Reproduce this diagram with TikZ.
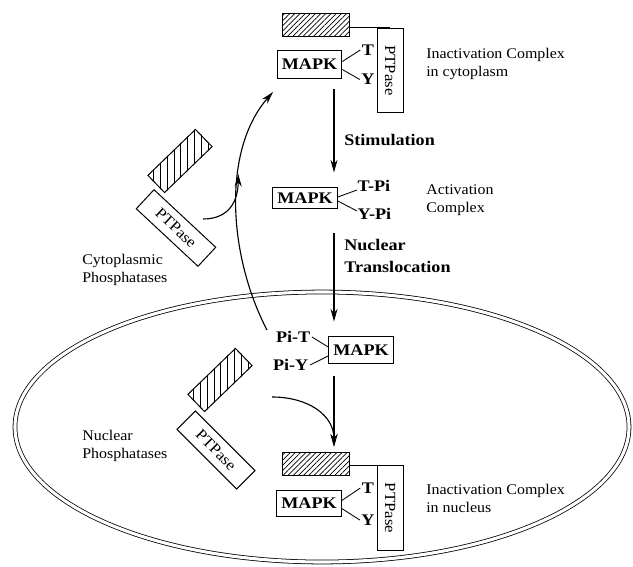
\documentclass[tikz,border=0pt]{standalone}
\usepackage{fontspec}
\setmainfont{Liberation Serif}[FakeStretch=1.08, BoldFeatures={FakeStretch=1.12}]
\usetikzlibrary{positioning, calc, arrows.meta, patterns.meta}

\tikzset{
  mapk/.style={draw, line width=0.7pt, font=\bfseries\fontsize{11.5}{13}\selectfont,
    minimum width=46pt, minimum height=20pt, inner sep=0pt},
  ptpase/.style={draw, line width=0.7pt, font=\fontsize{11}{13}\selectfont,
    minimum width=60pt, minimum height=18.5pt, inner sep=0pt},
  barbox/.style={draw, line width=0.7pt, minimum width=47pt, minimum height=17pt, inner sep=0pt},
  hatchbox/.style={barbox, pattern={Lines[angle=45, distance=2.6pt, line width=0.5pt]}},
  hatchline/.style={line width=0.5pt},
  site/.style={font=\bfseries\fontsize{11.5}{13}\selectfont, inner sep=1pt},
  note/.style={font=\fontsize{10.5}{12.8}\selectfont, align=left, inner sep=0pt, anchor=west},
  cue/.style={font=\bfseries\fontsize{11.5}{15.6}\selectfont, align=left, inner sep=0pt, anchor=west},
  flow/.style={line width=0.8pt, -{Stealth[length=9pt, width=5pt]}},
  bond/.style={line width=0.6pt},
}

\begin{document}
\begin{tikzpicture}[x=0.025cm, y=-0.025cm]
\useasboundingbox (0,0) rectangle (633,567);

% nucleus
\draw[line width=0.55pt, double, double distance=2.2pt] (322,427) ellipse [x radius=307, y radius=135];

% inactivation complex in cytoplasm
\node (h1) [hatchbox] at (316,25) {};
\node (mk1) [mapk, minimum height=20.5pt] at (309.5,64.5) {MAPK};
\node (p1) [ptpase, rotate=-90] at (390,70.5) {PTPase};
\node (t1) [site] at (368,50) {T};
\node (y1) [site] at (368,79.5) {Y};
\draw[bond] (h1.east |- p1.west) -- (p1.west);
\draw[bond] ($(mk1.east)+(0,-3)$) -- (t1.west);
\draw[bond] ($(mk1.east)+(0,5)$) -- (y1.west);
\node (ic) [note] at (426,64) {Inactivation Complex\\in cytoplasm};

% activation complex
\node (mk2) [mapk, minimum height=15.6pt] at (305,198) {MAPK};
\node (tp) [site, anchor=west] at (356,186) {T-Pi};
\node (yp) [site, anchor=west] at (356,214) {Y-Pi};
\draw[bond] ($(mk2.east)+(0,-1)$) -- ($(tp.west)+(1,4)$);
\draw[bond] ($(mk2.east)+(0,3)$) -- ($(yp.west)+(1,-3)$);
\node (act) [note] at (426,200.5) {Activation\\Complex};

% MAPK in nucleus
\node (mk3) [mapk, minimum height=19.8pt] at (361,350) {MAPK};
\node (pt) [site, anchor=east] at (312,337) {Pi-T};
\node (py) [site, anchor=east] at (310,365) {Pi-Y};
\draw[bond] (pt.east) -- ($(mk3.west)+(0,-3)$);
\draw[bond] (py.east) -- ($(mk3.west)+(0,6)$);

% inactivation complex in nucleus
\node (h4) [hatchbox] at (316,464) {};
\node (mk4) [mapk, minimum height=19pt] at (309,503.5) {MAPK};
\node (p4) [ptpase, rotate=-90] at (390,508) {PTPase};
\node (t4) [site] at (368,488) {T};
\node (y4) [site] at (368,520) {Y};
\draw[bond] (h4.east |- p4.west) -- (p4.west);
\draw[bond] ($(mk4.east)+(0,-3)$) -- (t4.west);
\draw[bond] ($(mk4.east)+(0,5)$) -- (y4.west);
\node (inn) [note] at (426,498) {Inactivation Complex\\in nucleus};

% free phosphatases
\node (hc) [barbox, rotate=44] at (180,161) {};
\node (pc) [ptpase, rotate=-43] at (176,228) {PTPase};
\node (cp) [note] at (82,270) {Cytoplasmic\\Phosphatases};
\node (hn) [barbox, rotate=44] at (220,380) {};
\node (pn) [ptpase, rotate=-45] at (216,450) {PTPase};
\node (np) [note] at (82,446) {Nuclear\\Phosphatases};

% hatching of the tilted boxes
\begin{scope}
  \clip (hc.north west) -- (hc.north east) -- (hc.south east) -- (hc.south west) -- cycle;
  \foreach \x in {140,146.8,...,225}
    \draw[hatchline] (\x,120) -- (\x,200);
\end{scope}
\begin{scope}
  \clip (hn.north west) -- (hn.north east) -- (hn.south east) -- (hn.south west) -- cycle;
  \foreach \x in {180,186.8,...,265}
    \draw[hatchline] (\x,340) -- (\x,420);
\end{scope}

% main pathway
\coordinate (spine) at (334,0);
\draw[flow, shorten <=7pt, shorten >=10pt] (mk1.south -| spine) -- (mk2.north -| spine);
\node (stim) [cue] at (344,140) {Stimulation};
\draw[flow, shorten <=17pt, shorten >=10pt] (mk2.south -| spine) -- (mk3.north -| spine);
\node (trans) [cue] at (344,256) {Nuclear\\Translocation};
\draw[flow, shorten <=8pt, shorten >=3.5pt] (mk3.south -| spine) -- (h4.north -| spine);

% phosphatase binding and export
\coordinate (nstart) at (272,397);
\draw[flow, shorten >=3.5pt] (nstart) .. controls (308,397) and (334,415) .. (h4.north -| spine);
\coordinate (abase) at (267,330);
\coordinate (atip) at (273,92);
\draw[flow] (abase) .. controls (228,255) and (222,150) .. (atip);
\coordinate (cstart) at (203,219);
\coordinate (cjoin) at (238.3,174);
\draw[flow] (cstart) .. controls (230,219) and (238,200) .. (cjoin);
\end{tikzpicture}
\end{document}
